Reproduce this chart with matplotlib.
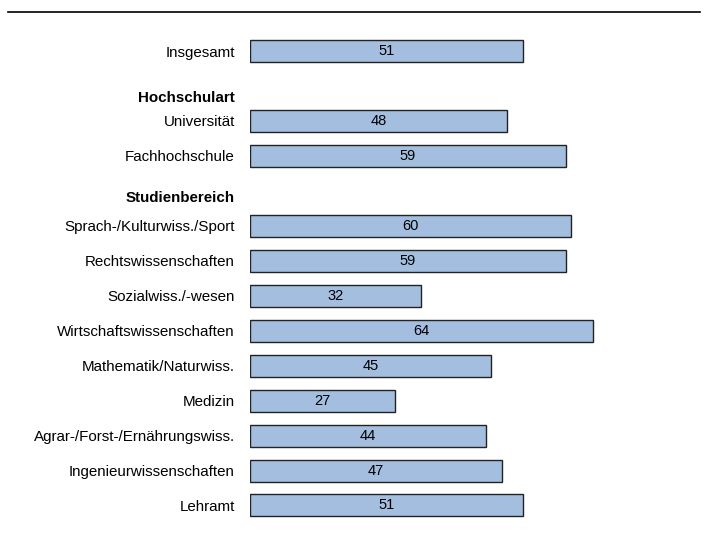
import matplotlib
matplotlib.use("Agg")
import matplotlib.pyplot as plt
from matplotlib.lines import Line2D

plt.rcParams['font.family'] = ['Liberation Sans', 'DejaVu Sans']

# Daten
labels = ["Insgesamt", "Universität", "Fachhochschule",
          "Sprach-/Kulturwiss./Sport", "Rechtswissenschaften", "Sozialwiss./-wesen",
          "Wirtschaftswissenschaften", "Mathematik/Naturwiss.", "Medizin",
          "Agrar-/Forst-/Ernährungswiss.", "Ingenieurwissenschaften", "Lehramt"]
values = [51, 48, 59, 60, 59, 32, 64, 45, 27, 44, 47, 51]
headers = ["Hochschulart", "Studienbereich"]

# Zeilenpositionen (0 = oben)
rows = [0, 2, 3, 5, 6, 7, 8, 9, 10, 11, 12, 13]
header_rows = [1.33, 4.2]

fig = plt.figure(figsize=(7.05, 5.36), dpi=100)
ax = fig.add_axes([250 / 705, 0, 440 / 705, 1])

ax.barh(rows, values, height=0.63, color="#A4BEE0", edgecolor="#222222", linewidth=1.0, left=0)
for r, v in zip(rows, values):
    ax.text(v / 2, r, str(v), ha="center", va="center", fontsize=10.5, color="black")

ax.set_xlim(0, 440 / 5.353)
ax.set_ylim(13.873, -1.459)

ax.set_yticks(rows)
ax.set_yticklabels(labels, fontsize=10.9)
ax.tick_params(axis="y", length=0, pad=10.8)
ax.set_xticks([])
for s in ax.spines.values():
    s.set_visible(False)

for h, r in zip(headers, header_rows):
    ax.text(-15 / 5.353, r, h, ha="right", va="center", fontsize=10.9, fontweight="bold")

# Linie oben
fig.add_artist(Line2D([8 / 705, 700 / 705], [1 - 12 / 536, 1 - 12 / 536], color="black", linewidth=1.2))

fig.savefig("out.png", dpi=100)
